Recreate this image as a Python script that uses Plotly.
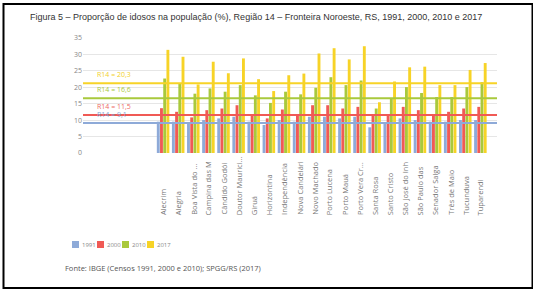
import plotly.graph_objects as go

# ---- data ----
categories = ["Alecrim", "Alegria", "Boa Vista do ...", "Campina das M", "Cândido Godói",
              "Doutor Maurici...", "Giruá", "Horizontina", "Independência", "Nova Candelári",
              "Novo Machado", "Porto Lucena", "Porto Mauá", "Porto Vera Cr...", "Santa Rosa",
              "Santo Cristo", "São José do Inh", "São Paulo das", "Senador Salga",
              "Três de Maio", "Tucunduva", "Tuparendi"]
years = ["1991", "2000", "2010", "2017"]
v1991 = [9.5, 9.5, 9.0, 10.0, 10.5, 11.0, 9.5, 8.5, 10.0, 9.5, 11.0, 11.0, 10.5, 11.0, 7.8,
         9.0, 10.5, 10.0, 9.5, 9.5, 10.0, 10.0]
v2000 = [13.6, 12.5, 10.8, 13.0, 13.5, 14.5, 11.5, 10.5, 13.2, 11.8, 14.5, 14.5, 13.5, 14.0, 11.5,
         11.5, 14.0, 13.0, 11.5, 12.5, 13.5, 14.0]
v2010 = [22.6, 21.0, 18.0, 19.6, 18.6, 20.6, 17.5, 15.2, 18.6, 17.8, 19.8, 23.0, 20.6, 22.0, 13.5,
         16.5, 20.0, 18.2, 17.0, 17.0, 20.0, 21.5]
v2017 = [31.3, 29.2, 20.8, 27.7, 24.2, 28.7, 22.4, 18.8, 23.6, 24.1, 30.2, 31.8, 28.4, 32.4, 15.4,
         21.7, 26.0, 26.2, 20.6, 20.6, 25.2, 27.3]
region_avg = [9.1, 11.5, 16.6, 21.2]   # R14 reference lines
region_lbl = ["R14 = 9,1", "R14 = 11,5", "R14 = 16,6", "R14 = 20,3"]
yticks = [0, 5, 10, 15, 20, 25, 30, 35]

title = "Figura 5 – Proporção de idosos na população (%), Região 14 – Fronteira Noroeste, RS, 1991, 2000, 2010 e 2017"
source = "Fonte: IBGE (Censos 1991, 2000 e 2010); SPGG/RS (2017)"

colors = ["#8eaad8", "#f05a55", "#a9c93c", "#f7d327"]
label_colors = ["#7f9fd0", "#ee6a64", "#a9c93c", "#f2d02a"]

W, H = 533, 290
L, R, T, B = 83, 36, 37, 137
pw, ph = W - L - R, H - T - B


def px(x):
    return (x - L) / pw


def py(y):
    return (H - B - y) / ph


series = [v1991, v2000, v2010, v2017]
xs = list(range(len(categories)))

fig = go.Figure()
for name, vals, c in zip(years, series, colors):
    fig.add_trace(go.Bar(x=xs, y=vals, name=name, marker=dict(color=c, line=dict(width=0)),
                         showlegend=False))

x_lo, x_hi = -5.3, 22.1
for val, c in zip(region_avg, colors):
    fig.add_trace(go.Scatter(x=[x_lo, x_hi], y=[val, val], mode="lines",
                             line=dict(color=c, width=2), showlegend=False, hoverinfo="skip"))

ann = []
for val, lbl, c in zip(region_avg, region_lbl, label_colors):
    ann.append(dict(x=-4.5, y=val, xref="x", yref="y", text=lbl, showarrow=False,
                    xanchor="left", yanchor="middle", yshift=8.5,
                    font=dict(family="Open Sans", size=7, color=c)))

# category labels (rotated, aligned at their start)
for i, cat in enumerate(categories):
    ann.append(dict(x=i, y=py(217), xref="x", yref="paper", text=cat, showarrow=False,
                    textangle=-90, xanchor="center", yanchor="bottom",
                    font=dict(family="Open Sans", size=7.5, color="#777777")))

# legend drawn by hand
shapes = []
leg_x = [72, 97, 122, 147]
for lx, yr, c in zip(leg_x, years, colors):
    shapes.append(dict(type="rect", xref="paper", yref="paper", x0=px(lx), x1=px(lx + 7),
                       y0=py(248), y1=py(241), fillcolor=c, line=dict(width=0)))
    ann.append(dict(x=px(lx + 9), y=py(244.5), xref="paper", yref="paper", text=yr,
                    showarrow=False, xanchor="left", yanchor="middle", borderpad=0,
                    font=dict(family="Open Sans", size=6, color="#888888")))

ann.append(dict(x=px(28), y=py(17), xref="paper", yref="paper", text=title, showarrow=False,
                xanchor="left", yanchor="middle",
                font=dict(family="Liberation Sans", size=9, color="#333333")))
ann.append(dict(x=px(63), y=py(268), xref="paper", yref="paper", text=source, showarrow=False,
                xanchor="left", yanchor="middle",
                font=dict(family="Open Sans", size=7.5, color="#555555")))

# outer frame
shapes.append(dict(type="rect", xref="paper", yref="paper", x0=px(3.5), x1=px(532.5),
                   y0=py(288), y1=py(4), line=dict(color="black", width=2), layer="above"))

fig.update_layout(
    width=W, height=H,
    margin=dict(l=L, r=R, t=T, b=B, autoexpand=False),
    paper_bgcolor="white", plot_bgcolor="white",
    barmode="group", bargap=0.15, bargroupgap=0.1,
    xaxis=dict(range=[x_lo, x_hi], showticklabels=False, showgrid=False, zeroline=False,
               ticks="", automargin=False),
    yaxis=dict(range=[0, 35.2], tickvals=yticks, showgrid=True, gridcolor="#e6e6e6",
               gridwidth=1, zeroline=False, ticks="", automargin=False,
               tickfont=dict(family="Open Sans", size=7, color="#888888")),
    annotations=ann, shapes=shapes,
    font=dict(family="Open Sans"),
)

fig.write_html("out.html", config={"displayModeBar": False},
               post_script="document.body.style.margin='0';document.body.style.overflow='hidden';")
